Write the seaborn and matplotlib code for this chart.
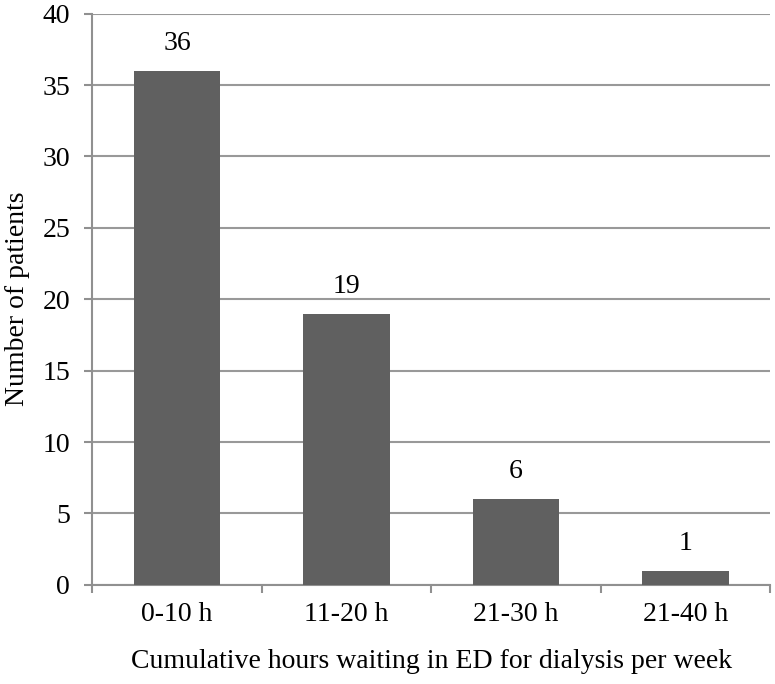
import matplotlib
matplotlib.use("Agg")
import matplotlib.pyplot as plt
import seaborn as sns
import pandas as pd

# Data
categories = ["0-10 h", "11-20 h", "21-30 h", "21-40 h"]
patients = [36, 19, 6, 1]

df = pd.DataFrame({"Hours": categories, "Patients": patients})

sns.set_style("white")
plt.rcParams["font.family"] = ["Liberation Serif", "DejaVu Serif"]
plt.rcParams["text.color"] = "black"
plt.rcParams["axes.labelcolor"] = "black"
plt.rcParams["xtick.color"] = "black"
plt.rcParams["ytick.color"] = "black"

fig = plt.figure(figsize=(7.75, 6.84), dpi=100)
ax = fig.add_axes([0.119, 0.145, 0.875, 0.835])

sns.barplot(data=df, x="Hours", y="Patients", color="#606060",
            saturation=1, width=0.51, linewidth=0, ax=ax, zorder=3)

# value labels
for i, v in enumerate(patients):
    ax.text(i, v + 1.05, str(v), ha="center", va="bottom", fontsize=20)

ax.set_ylim(0, 40)
ax.set_xlim(-0.5, 3.5)
ax.set_yticks(range(0, 41, 5))
ax.yaxis.grid(True, color="#999999", linewidth=1.5, zorder=0)
ax.set_axisbelow(True)

ax.set_xlabel("Cumulative hours waiting in ED for dialysis per week", fontsize=20, labelpad=16)
ax.set_ylabel("Number of patients", fontsize=20, labelpad=9)

for s in ["top", "right"]:
    ax.spines[s].set_visible(False)
for s in ["left", "bottom"]:
    ax.spines[s].set_color("#909090")
    ax.spines[s].set_linewidth(1.5)

ax.set_xticks([-0.5, 0.5, 1.5, 2.5, 3.5], minor=True)
ax.tick_params(axis="x", which="major", bottom=False, labelsize=20, pad=9)
ax.tick_params(axis="x", which="minor", bottom=True, length=6, width=1.5,
               color="#909090")
ax.tick_params(axis="y", left=True, length=6, width=1.5, color="#909090",
               labelcolor="black", labelsize=20, pad=10)

fig.savefig("out.png", dpi=100)
